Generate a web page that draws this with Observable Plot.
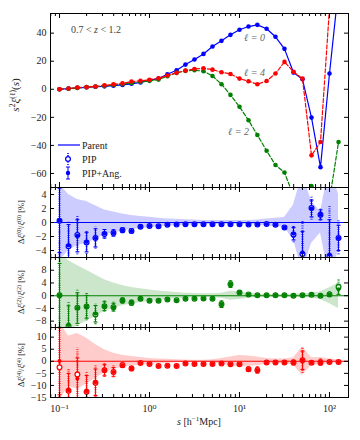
<!DOCTYPE html>
<html><head><meta charset="utf-8">
<script src="https://cdn.jsdelivr.net/npm/d3@7"></script>
<script src="https://cdn.jsdelivr.net/npm/@observablehq/plot@0.6"></script>
<style>
body{margin:0;background:#fff;}
#chart{position:relative;width:360px;height:440px;}
#chart svg{position:absolute;left:0;top:0;}
</style></head><body><div id="chart"></div>
<script>
// separation bins s [h^-1 Mpc]
const s = [0.1,0.126,0.158,0.2,0.251,0.316,0.398,0.501,0.631,0.794,1,1.26,1.58,2,2.51,3.16,3.98,5.01,6.31,7.94,10,12.6,15.8,20,25.1,31.6,39.8,50.1,63.1,79.4,100,126];

// top panel: s^2 xi_l(s)
const xi0 = [0,0.5,1.0,1.4,1.8,2.1,2.6,3.1,3.9,4.9,6.4,7.6,10.7,13.6,17.6,21.2,25.2,30.5,34.5,38.8,42.4,44.7,45.9,43.1,37.4,28.8,11.9,7.1,-20.2,-55.5,11.2,72];
const xi2 = [0,0.4,1.0,1.5,1.9,2.4,3.0,3.6,4.5,5.3,6.0,6.9,9.3,11.7,13.1,13.6,12.9,9.5,3.6,-4.0,-12.5,-22.1,-32.6,-43.8,-54.0,-59.3,-76,-80,-69,-85,-79,-37.6];
const xi4 = [0,0.5,1.2,1.5,2.0,2.8,3.5,4.2,5.5,6.0,6.8,7.8,9.8,11.7,13.3,14.5,15.0,14.0,12.1,10.9,7.6,5.7,3.6,5.9,11.2,19.5,12.4,7.6,-47.1,-37.6,58,null];

// residuals [%]: PIP and PIP+Ang., with errors, and parent band
const pip0    = [0.24,-3.4,-1.8,-2.85,-2.2,-1.66,-1.5,-1.1,-1.2,-0.6,-0.5,-0.55,-0.33,-0.3,-0.25,-0.25,-0.25,-0.25,-0.25,-0.25,-0.25,-0.3,-0.3,-0.2,-0.33,-0.7,-1.7,-4.5,2.06,1.1,-4.8,-2.2];
const pip0Err = [5.5,3.6,2.8,1.7,1.6,0.75,0.55,0.45,0.4,0.25,0.2,0.2,0.15,0.12,0.1,0.1,0.1,0.1,0.1,0.1,0.1,0.1,0.1,0.12,0.15,0.3,1.2,4.6,1.7,0.9,7.2,2.4];
const ang0    = [0.3,-3.3,-1.9,-2.8,-2.2,-1.6,-1.5,-1.1,-1.2,-0.6,-0.5,-0.55,-0.33,-0.3,-0.25,-0.25,-0.25,-0.25,-0.25,-0.25,-0.25,-0.3,-0.3,-0.2,-0.33,-0.7,-1.6,-4.3,2.0,1.1,-4.6,-2.2];
const ang0Err = [4.6,3.0,2.3,1.4,1.3,0.6,0.45,0.35,0.3,0.2,0.15,0.15,0.1,0.1,0.08,0.08,0.08,0.08,0.08,0.08,0.08,0.08,0.08,0.1,0.12,0.25,0.9,3.0,1.2,0.7,5.0,1.8];
const band0   = [5.5,4.0,3.3,3.0,2.4,1.8,1.5,1.2,1.0,0.85,0.75,0.6,0.5,0.45,0.4,0.35,0.3,0.3,0.3,0.3,0.3,0.3,0.35,0.5,0.6,0.7,2.5,7,3,1.5,8,4];

const pip2    = [0.1,-9.5,-3.8,-3.4,-5.9,-3.3,-3.6,-1.5,-2.2,-0.95,-1.6,-1.6,-1.2,-1.4,-0.95,-1.0,-0.85,-0.95,-2.7,3.6,1.0,0.4,0.1,0.1,0.1,0.1,0.0,0.1,0.3,0.0,0.4,2.7];
const pip2Err = [13,7.5,5.8,4.5,3.2,1.8,1.5,1.0,1.0,0.5,0.5,0.4,0.3,0.3,0.3,0.3,0.3,0.3,1.3,1.2,0.4,0.3,0.2,0.2,0.2,0.2,0.2,0.3,0.4,0.4,0.8,2.2];
const ang2    = [0.1,-9.2,-3.9,-3.5,-5.7,-3.3,-3.6,-1.5,-2.2,-0.95,-1.6,-1.6,-1.2,-1.4,-0.95,-1.0,-0.85,-0.95,-2.7,3.6,1.0,0.4,0.1,0.1,0.1,0.1,0.0,0.1,0.3,0.0,0.4,2.0];
const ang2Err = [10,6,4.8,3.6,2.6,1.4,1.2,0.8,0.8,0.4,0.4,0.3,0.25,0.25,0.25,0.25,0.25,0.25,1.0,1.0,0.3,0.25,0.15,0.15,0.15,0.15,0.15,0.25,0.3,0.3,0.6,1.6];
const band2   = [14,11,9.5,8,6.5,5,4,3.2,2.6,2.2,1.8,1.5,1.2,1.0,0.8,0.7,0.6,0.6,0.8,1.4,1.2,0.8,0.5,0.4,0.4,0.4,0.5,0.6,0.8,1.2,2.5,4];

const pip4    = [-2.5,-12.2,-5.5,-12.6,-8.9,-3.7,-4.4,-1.6,-3.0,-0.7,-1.1,-1.9,-1.8,-2.0,-0.95,-1.1,-1.1,-1.1,-0.95,-1.2,-1.2,-3.3,-3.7,-0.5,-0.5,-0.5,-0.5,0.4,-0.6,-0.5,-0.3,-0.3];
const pip4Err = [18,9,11,8,7,3,2.4,1.2,1.2,0.8,0.8,0.6,0.5,0.5,0.4,0.4,0.4,0.4,0.4,0.4,0.5,1.2,1.5,0.8,0.6,0.6,1.3,5.4,0.8,1.5,0.8,0.5];
const ang4    = [0.1,-12.0,-7.1,-12.4,-8.7,-3.7,-4.4,-1.6,-3.0,-0.7,-1.1,-1.9,-1.8,-2.0,-0.95,-1.1,-1.1,-1.1,-0.95,-1.2,-1.2,-3.3,-3.7,-0.5,-0.5,-0.5,-0.5,0.4,-0.6,-0.5,-0.3,-0.3];
const ang4Err = [14,7,8.5,6.5,5.5,2.3,1.8,0.9,0.9,0.6,0.6,0.45,0.4,0.4,0.3,0.3,0.3,0.3,0.3,0.3,0.4,0.9,1.2,0.6,0.45,0.45,1.0,3.8,0.6,1.1,0.6,0.4];
const band4   = [16,10.5,11.5,9.5,7,4.8,3.3,2.5,2.0,1.6,1.2,1.0,0.8,0.6,0.5,0.4,0.4,0.6,1.2,1.8,2.4,2.2,1.8,1.2,1.0,1.0,1.5,5.9,1.5,1.6,1.0,0.6];

// axis ticks
const xMajor = [0.1,1,10,100];
const xMinor = [0.08,0.09,0.2,0.3,0.4,0.5,0.6,0.7,0.8,0.9,2,3,4,5,6,7,8,9,20,30,40,50,60,70,80,90];
const xLabels = {0.1:"10⁻¹",1:"10⁰",10:"10¹",100:"10²"};
const yTicksTop = [-60,-40,-20,0,20,40];
const yTicks0 = [-4,-2,0,2,4];
const yTicks2 = [-8,-4,0,4,8];
const yTicks4 = [-15,-10,-5,0,5,10];

const BLUE="#0000ff", GREEN="#008000", RED="#ff0000";
const W=360, H=440, ML=50, MR=12, IW=W-ML-MR;
const FONT='"Liberation Serif", "DejaVu Serif", serif';
const xDomain=[0.07943,162.6];
const minus = d => d<0 ? "\u2212"+Math.abs(d) : String(d);

const capSym = {draw(ctx, size){ const r=Math.sqrt(size/Math.PI); ctx.moveTo(-r,0); ctx.lineTo(r,0);} };

function frameMarks(ih, yt, withX){
  const m = [
    Plot.frame({stroke:"#000", strokeWidth:1}),
    Plot.tickX(xMajor,{x:d=>d, insetTop:ih-5, stroke:"#000"}),
    Plot.tickX(xMajor,{x:d=>d, insetBottom:ih-5, stroke:"#000"}),
    Plot.tickX(xMinor,{x:d=>d, insetTop:ih-3, stroke:"#000"}),
    Plot.tickX(xMinor,{x:d=>d, insetBottom:ih-3, stroke:"#000"}),
    Plot.tickY(yt,{y:d=>d, insetRight:IW-4, stroke:"#000"}),
    Plot.tickY(yt,{y:d=>d, insetLeft:IW-4, stroke:"#000"}),
    Plot.axisY(yt,{tickSize:0, tickPadding:4, tickFormat:minus, label:null, fontSize:10, fill:"#222"})
  ];
  if(withX) m.push(Plot.axisX(xMajor,{tickSize:0, tickPadding:7, tickFormat:d=>xLabels[d], label:null, fontSize:10, fill:"#222"}));
  return m;
}

function panel(top,bottom,yDomain,yt,marks,withX){
  const ih = bottom-top;
  return Plot.plot({
    width:W, height:H, marginLeft:ML, marginRight:MR, marginTop:top, marginBottom:H-bottom,
    x:{type:"log", domain:xDomain, axis:null},
    y:{domain:yDomain, axis:null},
    style:{background:"transparent", fontFamily:FONT, fontSize:"10px", overflow:"visible"},
    marks:[...marks, ...frameMarks(ih, yt, withX)]
  });
}

const rowsTop = (arr)=> s.map((x,i)=>({s:x, v:arr[i]})).filter(d=>d.v!==null);
const topMarks = [];
[[xi0,BLUE,null],[xi2,GREEN,"4,2"],[xi4,RED,"4,2"]].forEach(([arr,c,dash])=>{
  const r = rowsTop(arr);
  topMarks.push(Plot.line(r,{x:"s",y:"v",stroke:c,strokeWidth:1.2,strokeDasharray:dash,clip:true}));
  topMarks.push(Plot.dot(r,{x:"s",y:"v",fill:c,r:2.3,clip:true}));
});
const lblData = [{s:14.7,v:36.4,t:"ℓ = 0"},{s:14.7,v:11.4,t:"ℓ = 4"},{s:9.75,v:-30,t:"ℓ = 2"}];
topMarks.push(Plot.text(lblData,{x:"s",y:"v",text:"t",fill:"#666",fontSize:10,fontStyle:"italic"}));

function resMarks(color, pip, pipE, ang, angE, band){
  const r = s.map((x,i)=>({s:x, p:pip[i], pe:pipE[i], a:ang[i], ae:angE[i], b:band[i]}));
  return [
    Plot.areaY(r,{x:"s", y1:d=>-d.b, y2:d=>d.b, fill:color, fillOpacity:0.2, clip:true}),
    Plot.ruleY([0],{stroke:color, strokeWidth:1.1}),
    Plot.ruleX(r,{x:"s", y1:d=>d.p-d.pe, y2:d=>d.p+d.pe, stroke:color, strokeWidth:2.2, strokeDasharray:"0.8,1.4", clip:true}),
    Plot.ruleX(r,{x:"s", y1:d=>d.a-d.ae, y2:d=>d.a+d.ae, stroke:color, strokeWidth:1, clip:true}),
    Plot.dot(r,{x:"s", y:d=>d.a-d.ae, symbol:capSym, r:2, stroke:color, fill:"none", strokeWidth:1, clip:true}),
    Plot.dot(r,{x:"s", y:d=>d.a+d.ae, symbol:capSym, r:2, stroke:color, fill:"none", strokeWidth:1, clip:true}),
    Plot.dot(r,{x:"s", y:"p", r:2.4, stroke:color, fill:"white", strokeWidth:1.2, clip:true}),
    Plot.dot(r,{x:"s", y:"a", r:2.0, fill:color, clip:true})
  ];
}

const root = document.getElementById("chart");
const p1 = panel(13,187,[-70,54],yTicksTop,topMarks,false);
const p2 = panel(187,257,[-5,5],yTicks0,resMarks(BLUE,pip0,pip0Err,ang0,ang0Err,band0),false);
const p3 = panel(257,327,[-10,12],yTicks2,resMarks(GREEN,pip2,pip2Err,ang2,ang2Err,band2),false);
const p4 = panel(327,397,[-15,14],yTicks4,resMarks(RED,pip4,pip4Err,ang4,ang4Err,band4),true);
[p1,p2,p3,p4].forEach(p=>root.appendChild(p));

// text decorations
function label(svg, x, y, parts, size, rotate){
  const t = d3.select(svg).append("text")
    .attr("transform", `translate(${x},${y})` + (rotate? " rotate(-90)":""))
    .attr("text-anchor","middle").attr("font-family",FONT).attr("font-size",size).attr("fill","#222");
  parts.forEach(([txt, opt])=>{
    const sp = t.append("tspan").text(txt);
    if(opt && opt.includes("i")) sp.attr("font-style","italic");
    if(opt && opt.includes("^")) sp.attr("baseline-shift","super").attr("font-size", size*0.7);
  });
  return t;
}
label(p1, 19, 95, [["s","i"],["2","^"],["ξ","i"],["(ℓ)","^"],["("],["s","i"],[")"]], 11, true);
label(p2, 24, 222, [["Δ"],["ξ","i"],["(0)","^"],["/"],["ξ","i"],["(0)","^"],[" [%]"]], 8.5, true);
label(p3, 24, 292, [["Δ"],["ξ","i"],["(2)","^"],["/"],["ξ","i"],["(2)","^"],[" [%]"]], 8.5, true);
label(p4, 24, 365, [["Δ"],["ξ","i"],["(4)","^"],["/"],["ξ","i"],["(4)","^"],[" [%]"]], 8.5, true);
label(p4, 199, 425, [["s","i"],[" [h"],["−1","^"],["Mpc]"]], 10, false);
label(p1, 96, 33, [["0.7 < "],["z","i"],[" < 1.2"]], 10, false).attr("fill","#444");

// legend
const lg = d3.select(p1).append("g").attr("font-family",FONT).attr("font-size",10).attr("fill","#222").attr("text-anchor","start");
lg.append("line").attr("x1",58).attr("x2",80).attr("y1",145).attr("y2",145).attr("stroke",BLUE).attr("stroke-width",1.2);
lg.append("text").attr("x",82).attr("y",148.5).text("Parent");
lg.append("line").attr("x1",68).attr("x2",68).attr("y1",153).attr("y2",165).attr("stroke",BLUE).attr("stroke-width",2).attr("stroke-dasharray","0.8,1.4");
lg.append("circle").attr("cx",68).attr("cy",159).attr("r",2.4).attr("fill","white").attr("stroke",BLUE).attr("stroke-width",1.2);
lg.append("text").attr("x",82).attr("y",162.5).text("PIP");
lg.append("line").attr("x1",68).attr("x2",68).attr("y1",167).attr("y2",179).attr("stroke",BLUE);
lg.append("line").attr("x1",66).attr("x2",70).attr("y1",167).attr("y2",167).attr("stroke",BLUE);
lg.append("line").attr("x1",66).attr("x2",70).attr("y1",179).attr("y2",179).attr("stroke",BLUE);
lg.append("circle").attr("cx",68).attr("cy",173).attr("r",2.2).attr("fill",BLUE);
lg.append("text").attr("x",82).attr("y",176.5).text("PIP+Ang.");
</script></body></html>
